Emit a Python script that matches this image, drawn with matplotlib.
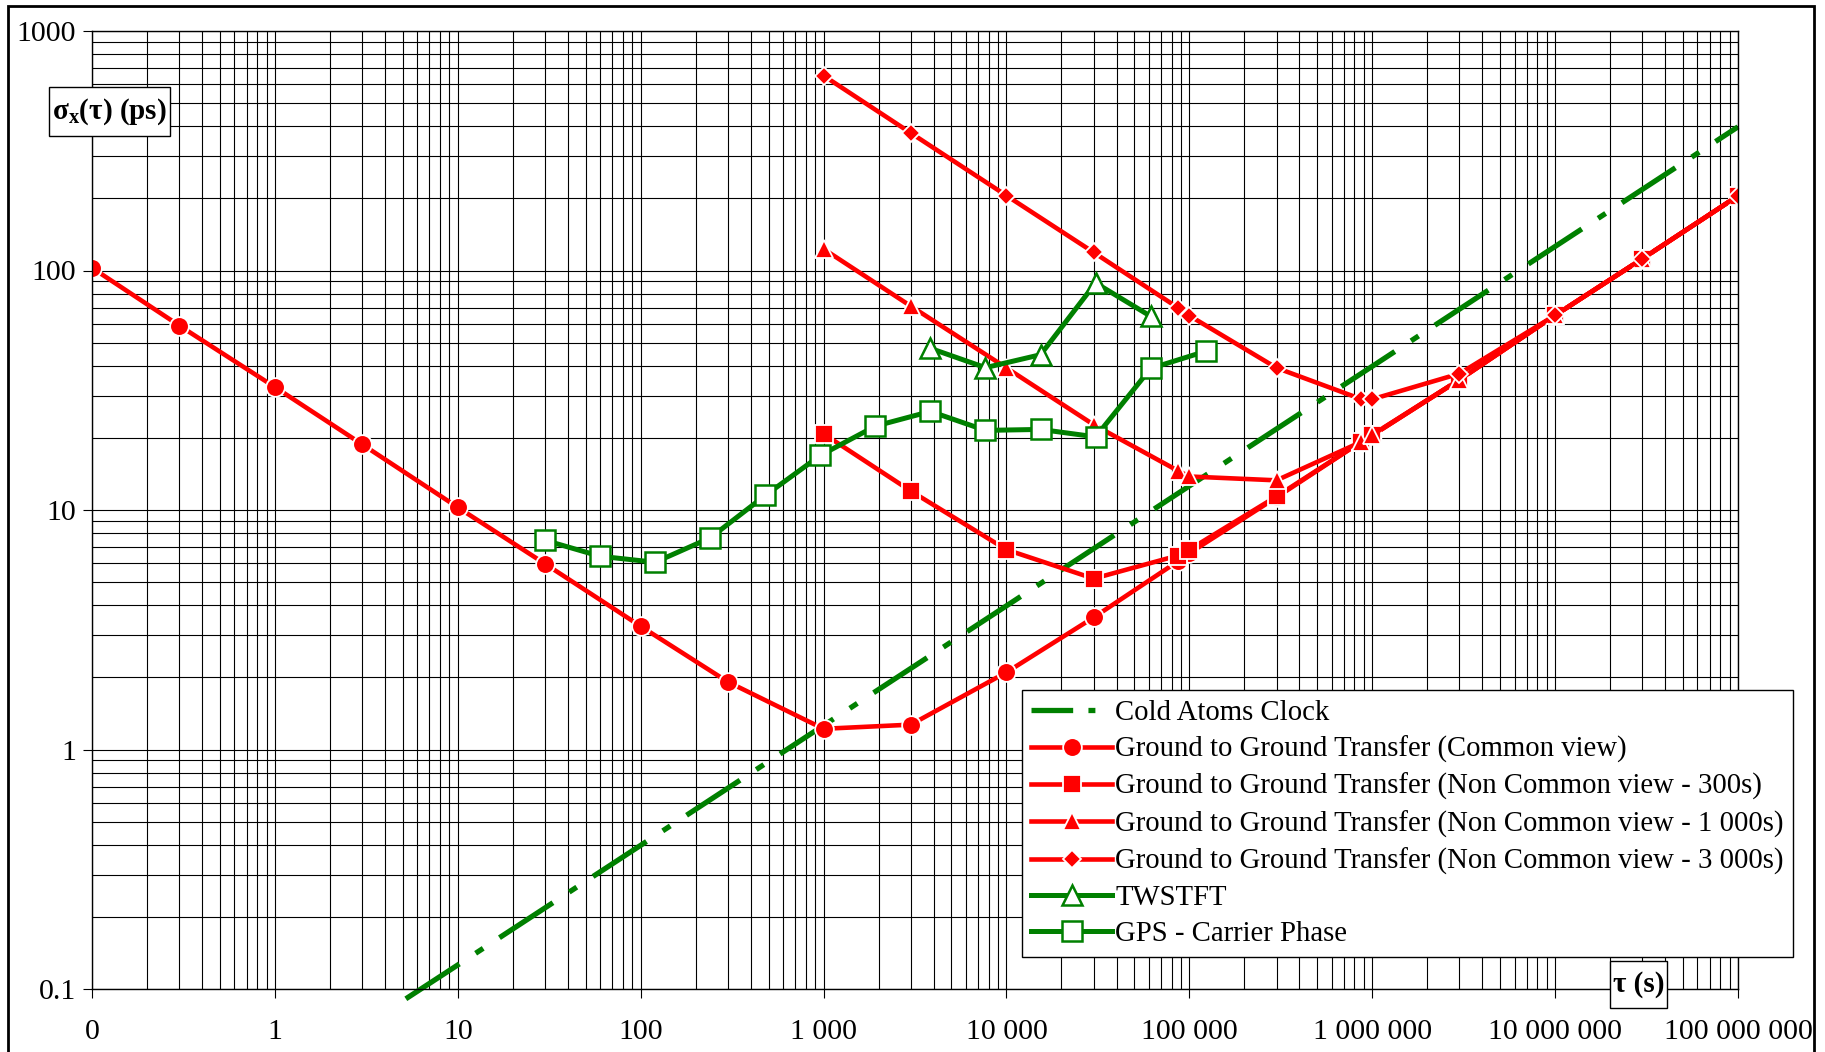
import matplotlib
matplotlib.use('Agg')
import matplotlib.pyplot as plt
from matplotlib.patches import Rectangle
from matplotlib.ticker import FixedLocator, FixedFormatter, LogLocator, NullFormatter

plt.rcParams['font.family'] = ['Liberation Serif', 'DejaVu Serif']
plt.rcParams['mathtext.fontset'] = 'custom'
plt.rcParams['mathtext.rm'] = 'Liberation Serif'
plt.rcParams['mathtext.bf'] = 'Liberation Serif:bold'
plt.rcParams['lines.scale_dashes'] = False

RED = '#FF0000'
GREEN = '#008000'

# Cold atoms clock stability, sigma_x in ps
tau_cold = [5.2, 10, 100, 1e3, 1e4, 1e5, 1e6, 1e7, 1e8]
sig_cold = [0.091, 0.126, 0.398, 1.26, 3.98, 12.6, 39.8, 126, 398]

# Ground to ground transfer, common view
tau_cv = [0.1, 0.3, 1, 3, 10, 30, 100, 300, 1e3, 3e3, 1e4, 3e4,
          86400, 1e5, 3e5, 864000, 1e6, 3e6, 1e7, 3e7, 1e8]
sig_cv = [102.6, 58.9, 32.6, 18.8, 10.26, 5.96, 3.27, 1.915, 1.22, 1.27, 2.10, 3.56,
          6.1, 6.6, 11.3, 19.2, 20.5, 35, 65, 112, 205]

# Non common view, 300 s / 1 000 s / 3 000 s
tau_nc = [1e3, 3e3, 1e4, 3e4, 86400, 1e5, 3e5, 864000, 1e6, 3e6, 1e7, 3e7, 1e8]
sig_nc300 = [20.8, 12.0, 6.83, 5.17, 6.45, 6.83, 11.4, 19.2, 20.5, 35, 65, 112, 205]
sig_nc1000 = [123, 71, 39.2, 22.7, 14.6, 13.8, 13.3, 19.2, 20.6, 35, 65, 112, 205]
sig_nc3000 = [651, 375, 205.5, 119, 70, 64.8, 39.2, 29.1, 29.0, 37.1, 65, 112, 205]

# TWSTFT
tau_tw = [3840, 7680, 15360, 30720, 61440]
sig_tw = [47.3, 39.3, 44.5, 88.7, 64.4]

# GPS carrier phase
tau_gps = [30, 60, 120, 240, 480, 960, 1920, 3840, 7680, 15360, 30720, 61440, 122880]
sig_gps = [7.47, 6.41, 6.05, 7.65, 11.5, 16.9, 22.4, 25.8, 21.5, 21.7, 20.2, 39, 46]

x_ticks = [0.1, 1, 10, 100, 1e3, 1e4, 1e5, 1e6, 1e7, 1e8]
x_labels = ['0', '1', '10', '100', '1 000', '10 000', '100 000',
            '1 000 000', '10 000 000', '100 000 000']
y_ticks = [0.1, 1, 10, 100, 1000]
y_labels = ['0.1', '1', '10', '100', '1000']

W, H = 1825, 1052
fig = plt.figure(figsize=(W / 100, H / 100), dpi=100)
ax = fig.add_axes([92 / W, 63 / H, 1646 / W, 958 / H])

ax.set_xscale('log')
ax.set_yscale('log')
ax.set_xlim(0.1, 1e8)
ax.set_ylim(0.1, 1000)

ax.plot(tau_cold, sig_cold, color=GREEN, lw=3.8, dashes=(46, 14, 6.5, 14),
        solid_capstyle='butt', dash_capstyle='butt', clip_on=False,
        label='Cold Atoms Clock')
red_style = dict(color=RED, lw=3.3, mfc=RED, mec='white', mew=1.3)
ax.plot(tau_cv, sig_cv, marker='o', ms=13.5, **red_style,
        label='Ground to Ground Transfer (Common view)')
ax.plot(tau_nc, sig_nc300, marker='s', ms=12.5, **red_style,
        label='Ground to Ground Transfer (Non Common view - 300s)')
ax.plot(tau_nc, sig_nc1000, marker='^', ms=13, **red_style,
        label='Ground to Ground Transfer (Non Common view - 1 000s)')
ax.plot(tau_nc, sig_nc3000, marker='D', ms=9.5, **red_style,
        label='Ground to Ground Transfer (Non Common view - 3 000s)')
green_style = dict(color=GREEN, lw=3.6, mfc='white', mec=GREEN, mew=1.8)
ax.plot(tau_tw, sig_tw, marker='^', ms=14, **green_style, label='TWSTFT')
ax.plot(tau_gps, sig_gps, marker='s', ms=14, **green_style,
        label='GPS - Carrier Phase')

# full log grid in black
ax.xaxis.set_major_locator(FixedLocator(x_ticks))
ax.xaxis.set_major_formatter(FixedFormatter(x_labels))
ax.xaxis.set_minor_locator(LogLocator(base=10, subs=range(2, 10), numticks=20))
ax.xaxis.set_minor_formatter(NullFormatter())
ax.yaxis.set_major_locator(FixedLocator(y_ticks))
ax.yaxis.set_major_formatter(FixedFormatter(y_labels))
ax.yaxis.set_minor_locator(LogLocator(base=10, subs=range(2, 10), numticks=20))
ax.yaxis.set_minor_formatter(NullFormatter())
ax.grid(True, which='both', color='black', lw=0.8)
ax.set_axisbelow(True)
ax.tick_params(which='major', length=6.5, width=0.8, color='black',
               labelsize=21.5, direction='out')
ax.tick_params(axis='x', which='major', pad=15)
ax.tick_params(axis='y', which='major', pad=5)
ax.tick_params(which='minor', length=0)
for s in ax.spines.values():
    s.set_linewidth(1.0)
    s.set_color('black')

leg = ax.legend(loc='upper left', bbox_to_anchor=(1022 / W, 1 - 690 / H),
                bbox_transform=fig.transFigure, fontsize=20.7, frameon=True,
                fancybox=False, edgecolor='black', framealpha=1,
                handlelength=2.8, handletextpad=0.12, labelspacing=0.35,
                borderpad=0.33, borderaxespad=0)
leg.get_frame().set_linewidth(1.0)
leg.set_zorder(10)
# shorter dash pattern so the legend sample shows both dashes
leg.get_lines()[0].set_dashes((30, 11, 5, 30))

# axis title boxes
fig.patches.append(Rectangle((49 / W, 1 - 136 / H), 121 / W, 49 / H,
                             transform=fig.transFigure, facecolor='white',
                             edgecolor='black', lw=1.0, zorder=5))
fig.text(109.5 / W, 1 - 112 / H, r'$\mathbf{σ_x(τ)}$ (ps)', fontsize=21,
         fontweight='bold', ha='center', va='center', zorder=6)
fig.patches.append(Rectangle((1610 / W, 1 - 1008 / H), 57 / W, 47 / H,
                             transform=fig.transFigure, facecolor='white',
                             edgecolor='black', lw=1.0, zorder=5))
fig.text(1638.5 / W, 1 - 984 / H, 'τ (s)', fontsize=21, fontweight='bold',
         ha='center', va='center', zorder=6)

# outer chart frame
fig.patches.append(Rectangle((8 / W, -0.02), 1806 / W, 1.02 - 6 / H,
                             transform=fig.transFigure, facecolor='none',
                             edgecolor='black', lw=2.0, zorder=0))

fig.savefig('out.png', dpi=100)
